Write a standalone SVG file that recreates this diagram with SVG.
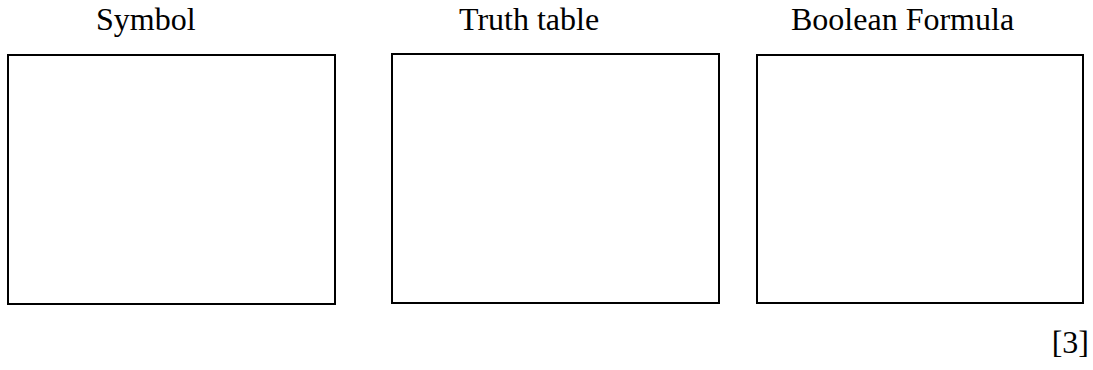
<svg xmlns="http://www.w3.org/2000/svg" width="1093" height="370" viewBox="0 0 1093 370">
<style>
.t{font-family:"Liberation Serif","Times New Roman",serif;font-size:32px;fill:#000}
.b{fill:#fff;stroke:#000;stroke-width:2}
</style>
<rect width="1093" height="370" fill="#fff"/>
<g id="symbol">
<text class="t" x="96" y="30">Symbol</text>
<rect class="b" x="8" y="55" width="327" height="249"/>
</g>
<g id="truth-table">
<text class="t" x="459" y="30">Truth table</text>
<rect class="b" x="392" y="54" width="327" height="249"/>
</g>
<g id="boolean-formula">
<text class="t" x="791" y="30">Boolean Formula</text>
<rect class="b" x="757" y="55" width="326" height="248"/>
</g>
<g id="connectors"></g>
<text class="t" x="1089" y="353" text-anchor="end" font-size="30">[3]</text>
</svg>
